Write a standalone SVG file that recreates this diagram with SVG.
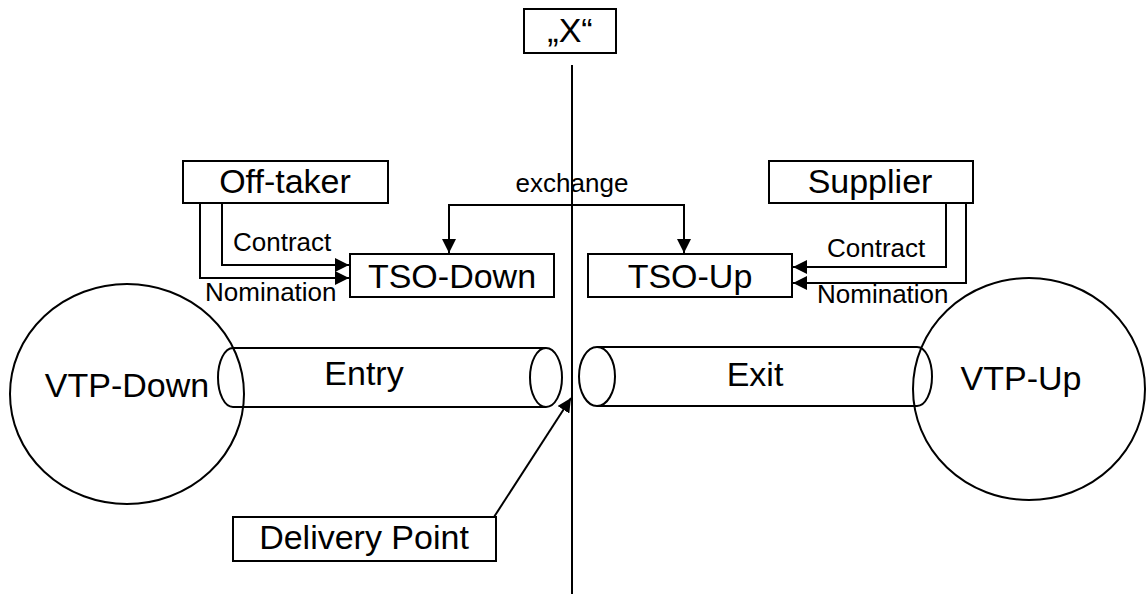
<svg xmlns="http://www.w3.org/2000/svg" width="1148" height="596" viewBox="0 0 1148 596">
  <style>
    .shape { fill: none; stroke: #000; stroke-width: 2; }
    .box { fill: #fff; stroke: #000; stroke-width: 2; }
    .wire { fill: none; stroke: #000; stroke-width: 2; }
    .big { font-family: "Liberation Sans", Arial, sans-serif; font-size: 34px; fill: #000; text-anchor: middle; }
    .small { font-family: "Liberation Sans", Arial, sans-serif; font-size: 26px; fill: #000; }
  </style>
  <defs>
    <marker id="arrow" viewBox="0 0 14 14" refX="14" refY="7" markerWidth="14" markerHeight="14" markerUnits="userSpaceOnUse" orient="auto">
      <path d="M0,0 L14,7 L0,14 Z" fill="#000"/>
    </marker>
  </defs>

  <rect width="1148" height="596" fill="#fff"/>

  <!-- border line between the two systems -->
  <g id="border">
    <line x1="572" y1="65" x2="572" y2="594" class="wire"/>
  </g>

  <g id="x-label">
    <rect x="524" y="9" width="92" height="44" class="box"/>
    <text x="570" y="42" class="big">„X“</text>
  </g>

  <g id="vtp-down">
    <ellipse cx="127" cy="394" rx="117" ry="110" class="shape"/>
    <text x="127" y="397" class="big">VTP-Down</text>
  </g>

  <g id="vtp-up">
    <ellipse cx="1029" cy="389" rx="116" ry="111" class="shape"/>
    <text x="1021" y="390" class="big">VTP-Up</text>
  </g>

  <!-- entry pipe: open face on the right -->
  <g id="entry">
    <path d="M233,348 L546,348 M233,407 L546,407 M233,348 A15,29.5 0 0 0 233,407" class="shape"/>
    <ellipse cx="546" cy="377.5" rx="16" ry="29.5" class="shape"/>
    <text x="364" y="385" class="big">Entry</text>
  </g>

  <!-- exit pipe: open face on the left -->
  <g id="exit">
    <path d="M597,347 L917,347 M597,406 L917,406 M917,347 A15,29.5 0 0 1 917,406" class="shape"/>
    <ellipse cx="597" cy="376.5" rx="18" ry="29.5" class="shape"/>
    <text x="755" y="386" class="big">Exit</text>
  </g>

  <g id="off-taker">
    <rect x="183" y="161" width="205" height="42" class="box"/>
    <text x="285" y="193" class="big">Off-taker</text>
  </g>

  <g id="supplier">
    <rect x="769" y="161" width="204" height="42" class="box"/>
    <text x="870" y="193" class="big">Supplier</text>
  </g>

  <g id="tso-down">
    <rect x="350" y="254" width="204" height="43" class="box"/>
    <text x="452" y="288" class="big">TSO-Down</text>
  </g>

  <g id="tso-up">
    <rect x="588" y="254" width="204" height="43" class="box"/>
    <text x="690" y="288" class="big">TSO-Up</text>
  </g>

  <g id="delivery-point">
    <rect x="233" y="517" width="263" height="44" class="box"/>
    <text x="364" y="549" class="big">Delivery Point</text>
  </g>

  <g id="connectors">
    <!-- off-taker to TSO-Down -->
    <polyline points="222,203 222,265 349,265" class="wire" marker-end="url(#arrow)"/>
    <polyline points="200,203 200,278 349,278" class="wire" marker-end="url(#arrow)"/>
    <text x="233" y="251" class="small">Contract</text>
    <text x="205" y="301" class="small">Nomination</text>

    <!-- supplier to TSO-Up -->
    <polyline points="946,203 946,267 793,267" class="wire" marker-end="url(#arrow)"/>
    <polyline points="966,203 966,283 793,283" class="wire" marker-end="url(#arrow)"/>
    <text x="827" y="257" class="small">Contract</text>
    <text x="817" y="303" class="small">Nomination</text>

    <!-- exchange between the TSOs -->
    <polyline points="449,252 449,205 684,205 684,252" class="wire"/>
    <line x1="449" y1="230" x2="449" y2="253" class="wire" marker-end="url(#arrow)"/>
    <line x1="684" y1="230" x2="684" y2="253" class="wire" marker-end="url(#arrow)"/>
    <text x="572" y="192" class="small" text-anchor="middle">exchange</text>

    <!-- delivery point callout -->
    <line x1="494" y1="517" x2="571" y2="398" class="wire" marker-end="url(#arrow)"/>
  </g>
</svg>
